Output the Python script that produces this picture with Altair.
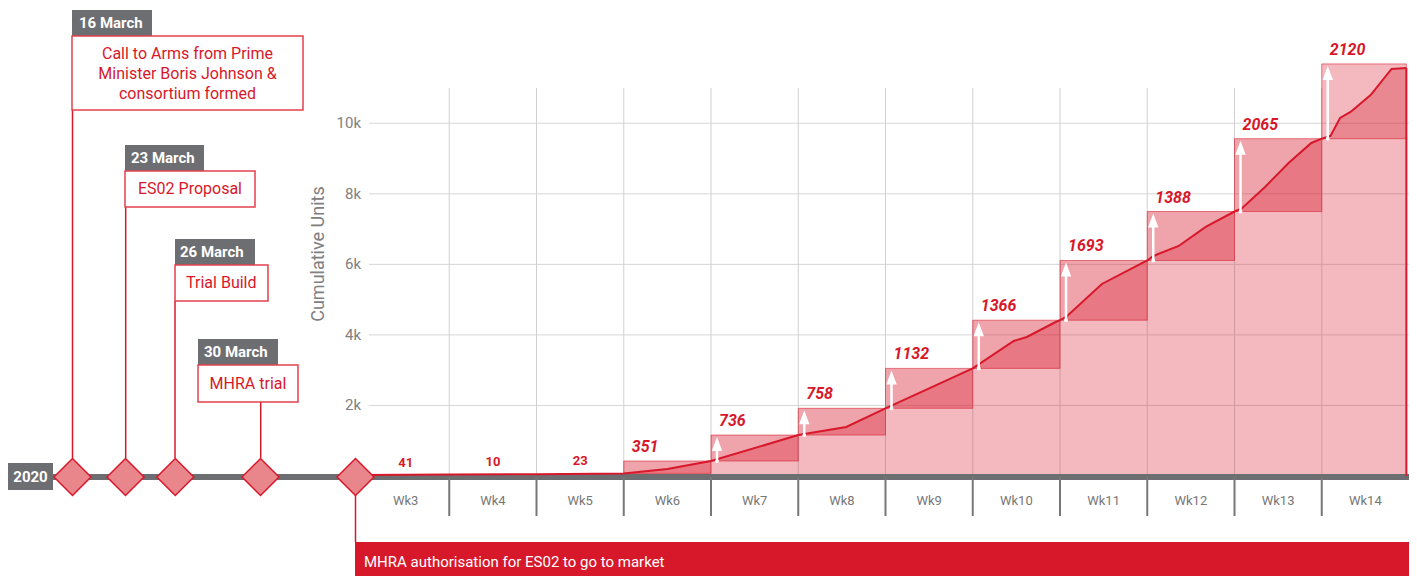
import altair as alt
import pandas as pd

# ---------------- data ----------------
weeks = ["Wk3", "Wk4", "Wk5", "Wk6", "Wk7", "Wk8", "Wk9", "Wk10", "Wk11", "Wk12", "Wk13", "Wk14"]
weekly_units = [41, 10, 23, 351, 736, 758, 1132, 1366, 1693, 1388, 2065, 2120]

# cumulative production line (position in weeks from start of Wk3, cumulative units)
line_x = [0, 1, 2, 3, 3.5, 4, 5, 5.55, 6, 7, 7.47, 7.62, 7.95, 8, 8.07, 8.48, 9,
          9.07, 9.36, 9.67, 10, 10.08, 10.35, 10.62, 10.88, 11,
          11.1, 11.21, 11.33, 11.56, 11.8, 11.97]
line_y = [30, 41, 51, 74, 200, 425, 1161, 1390, 1919, 3051, 3828, 3941, 4366, 4417, 4508, 5444, 6110,
          6238, 6521, 7060, 7498, 7580, 8194, 8874, 9442, 9563,
          9640, 10150, 10320, 10800, 11540, 11570]

gridline_values = [2000, 4000, 6000, 8000, 10000]

milestone_dates = ["16 March", "23 March", "26 March", "30 March"]
milestone_texts = [["Call to Arms from Prime", "Minister Boris Johnson &", "consortium formed"],
                   ["ES02 Proposal"], ["Trial Build"], ["MHRA trial"]]
year_label = "2020"
market_text = "MHRA authorisation for ES02 to go to market"
y_title = "Cumulative Units"

# ---------------- styles / layout ----------------
RED = "#d7182a"
GREY = "#6d6e71"
FONT = "Roboto"
W, H = 1047, 388

# annotation layout (pixels relative to plot origin)
hdr_rects = [(-290, -78, -210, -52), (-237, 57, -158, 83), (-187, 151, -107, 177), (-164, 251, -84, 277)]
box_rects = [(-290, -52, -59, 22), (-237, 83, -107, 119), (-187, 177, -94, 213), (-164, 277, -64, 314)]
txt_anchor = [(-174.5, -34), (-172, 101), (-140.7, 195), (-114, 296)]
hdr_anchor = [(-283, -65), (-231, 70), (-182, 164), (-158, 264)]
stems = [(-289.5, 22), (-236.3, 119), (-187, 213), (-101.3, 314)]
diamond_px = [-289.5, -236.5, -186.7, -101.5, -6.5]
TL_Y = 389
STEM_BOTTOM = 370

# ---------------- tables ----------------
cum = []
s = 0
for u in weekly_units:
    s += u
    cum.append(s)

rows = []
for i, (w, u, c) in enumerate(zip(weeks, weekly_units, cum)):
    end = i + 1 if i < len(weeks) - 1 else line_x[-1]
    rows.append(dict(week=w, idx=i, start=i, end=end, center=i + 0.5, units=u, cum=c,
                     prev=c - u, zero=0, op=0.3 if i == len(weeks) - 1 else 0.4))
wdf = pd.DataFrame(rows)
box_df = wdf[wdf.idx >= 3]
arrow_df = wdf[wdf.idx >= 4]
small_df = wdf[wdf.idx < 3]

ldf = pd.DataFrame({"x": line_x, "y": line_y, "zero": 0})

arows = []
for r in box_df.itertuples():
    for x, y in zip(line_x, line_y):
        if r.start <= x <= r.end:
            arows.append(dict(week=r.week, x=x, y=y, y2=r.prev))
adf = pd.DataFrame(arows)

xs = alt.Scale(domain=[0, 12], nice=False, zero=False)
ys = alt.Scale(domain=[0, 11000], nice=False, zero=False)

X = lambda f: alt.X(f, scale=xs, axis=None)
Y = lambda f: alt.Y(f, scale=ys, axis=None)
PX = lambda f: alt.X(f, scale=None, axis=None)
PY = lambda f: alt.Y(f, scale=None, axis=None)

one = pd.DataFrame({"a": [0]})
grid_df = pd.DataFrame({"v": gridline_values})

# ---------------- layers ----------------
hgrid = alt.Chart(grid_df).mark_rule(color="#d6d6d6", strokeWidth=1).encode(
    x=alt.value(7), x2=alt.value(W), y=Y("v:Q"))
ylabels = alt.Chart(grid_df).mark_text(font=FONT, fontSize=15, color="#808080", align="right",
                                       baseline="middle").encode(
    x=alt.value(-1), y=Y("v:Q"), text=alt.Text("v:Q", format="~s"))

bnd_df = pd.DataFrame({"b": list(range(1, len(weeks)))})
vgrid = alt.Chart(bnd_df).mark_rule(color="#d0d0d0", strokeWidth=1).encode(
    x=X("b:Q"), y=alt.value(0), y2=alt.value(H))

base = alt.Chart(box_df).mark_rect(color=RED, opacity=0.3).encode(
    x=X("start:Q"), x2="end:Q", y=Y("prev:Q"), y2="zero:Q")

boxes = alt.Chart(box_df).mark_rect(fill=RED, stroke=RED, strokeOpacity=0.55, strokeWidth=1).encode(
    x=X("start:Q"), x2="end:Q", y=Y("prev:Q"), y2="cum:Q",
    fillOpacity=alt.FillOpacity("op:Q", scale=None, legend=None))

area = alt.Chart(adf).mark_area(color=RED, opacity=0.3).encode(
    x=X("x:Q"), y=Y("y:Q"), y2="y2:Q", detail="week:N")

timeline = alt.Chart(one).mark_rule(color=GREY, strokeWidth=6).encode(
    x=alt.value(-314), x2=alt.value(W), y=alt.value(TL_Y))

seps = alt.Chart(bnd_df).mark_rule(color="#777777", strokeWidth=2).encode(
    x=X("b:Q"), y=alt.value(TL_Y), y2=alt.value(428))

wk_labels = alt.Chart(wdf).mark_text(font=FONT, fontSize=13, color="#777777").encode(
    x=X("center:Q"), y=alt.value(413), text="week:N")

line = alt.Chart(ldf).mark_line(color=RED, strokeWidth=2).encode(x=X("x:Q"), y=Y("y:Q"))

edge = alt.Chart(ldf.tail(1)).mark_rule(color=RED, strokeWidth=2).encode(
    x=X("x:Q"), y=Y("y:Q"), y2="zero:Q")

shaft = alt.Chart(arrow_df).mark_rule(color="white", strokeWidth=2.5, xOffset=6, y2Offset=12).encode(
    x=X("start:Q"), y=Y("prev:Q"), y2="cum:Q")
head = alt.Chart(arrow_df).mark_point(shape="M-0.75,1L0,-1L0.75,1Z", size=196, filled=True,
                                      color="white", opacity=1, xOffset=6, yOffset=9).encode(
    x=X("start:Q"), y=Y("cum:Q"))
dot = alt.Chart(arrow_df).mark_point(shape="circle", size=14, filled=True, color="white",
                                     opacity=1, xOffset=6).encode(x=X("start:Q"), y=Y("prev:Q"))

big_lbl = alt.Chart(box_df).mark_text(font=FONT, fontSize=16, fontWeight="bold", fontStyle="italic",
                                      color=RED, align="left", baseline="alphabetic", dx=8, dy=-9).encode(
    x=X("start:Q"), y=Y("cum:Q"), text="units:Q")
small_lbl = alt.Chart(small_df).mark_text(font=FONT, fontSize=13, fontWeight="bold", color=RED,
                                          align="center", baseline="alphabetic", dy=-8).encode(
    x=X("center:Q"), y=Y("cum:Q"), text="units:Q")

ytitle = alt.Chart(one).mark_text(font=FONT, fontSize=18, color="#808080", angle=270,
                                  align="center", baseline="middle").encode(
    x=alt.value(-43), y=alt.value(166), text=alt.value(y_title))

# annotations
hdr_df = pd.DataFrame([dict(x=a, y=b, x2=c, y2=d) for a, b, c, d in hdr_rects])
box_a_df = pd.DataFrame([dict(x=a, y=b, x2=c, y2=d) for a, b, c, d in box_rects])
stem_df = pd.DataFrame([dict(x=a, y=b, y2=STEM_BOTTOM) for a, b in stems] +
                       [dict(x=diamond_px[-1], y=TL_Y + 18, y2=454)])
htxt_df = pd.DataFrame([dict(x=a, y=b, t=t) for (a, b), t in zip(hdr_anchor, milestone_dates)])
trows = []
for (a, b), lines in zip(txt_anchor, milestone_texts):
    for k, t in enumerate(lines):
        trows.append(dict(x=a, y=b + 20 * k, t=t))
atxt_df = pd.DataFrame(trows)
dia_df = pd.DataFrame({"x": diamond_px, "y": TL_Y})

stem_l = alt.Chart(stem_df).mark_rule(color=RED, strokeWidth=1.5).encode(x=PX("x:Q"), y=PY("y:Q"), y2="y2:Q")
hdr_l = alt.Chart(hdr_df).mark_rect(color=GREY).encode(x=PX("x:Q"), x2="x2:Q", y=PY("y:Q"), y2="y2:Q")
box_l = alt.Chart(box_a_df).mark_rect(fill="white", stroke="#e2404d", strokeWidth=1.5).encode(
    x=PX("x:Q"), x2="x2:Q", y=PY("y:Q"), y2="y2:Q")
htxt_l = alt.Chart(htxt_df).mark_text(font=FONT, fontSize=15, fontWeight="bold", color="white",
                                      align="left", baseline="middle").encode(
    x=PX("x:Q"), y=PY("y:Q"), text="t:N")
atxt_l = alt.Chart(atxt_df).mark_text(font=FONT, fontSize=16, color=RED, align="center",
                                      baseline="middle").encode(x=PX("x:Q"), y=PY("y:Q"), text="t:N")
dia_l = alt.Chart(dia_df).mark_point(shape="diamond", size=1369, filled=True, fill="#e8868b",
                                     stroke=RED, strokeWidth=1.5, opacity=1).encode(x=PX("x:Q"), y=PY("y:Q"))

year_box = alt.Chart(one).mark_rect(color=GREY).encode(
    x=alt.value(-354), x2=alt.value(-309), y=alt.value(375), y2=alt.value(402))
year_txt = alt.Chart(one).mark_text(font=FONT, fontSize=15, fontWeight="bold", color="white",
                                    align="center", baseline="middle").encode(
    x=alt.value(-331.5), y=alt.value(389), text=alt.value(year_label))

bar = alt.Chart(one).mark_rect(color="#d7182a").encode(
    x=alt.value(-7), x2=alt.value(W), y=alt.value(454), y2=alt.value(492))
bar_txt = alt.Chart(one).mark_text(font=FONT, fontSize=15, color="white", align="left",
                                   baseline="middle").encode(
    x=alt.value(2), y=alt.value(474), text=alt.value(market_text))

chart = alt.layer(
    hgrid, ylabels, vgrid, base, boxes, area, timeline, seps, wk_labels, line, edge,
    shaft, head, dot, big_lbl, small_lbl, ytitle,
    stem_l, hdr_l, box_l, htxt_l, atxt_l, year_box, year_txt, bar, bar_txt, dia_l
).properties(
    width=W, height=H,
    padding={"left": 354, "top": 80, "right": 0, "bottom": 100},
    autosize=alt.AutoSizeParams(type="none"),
    background="white",
).configure_view(stroke=None)

chart.save("out.html", embed_options={"renderer": "svg", "actions": False})
